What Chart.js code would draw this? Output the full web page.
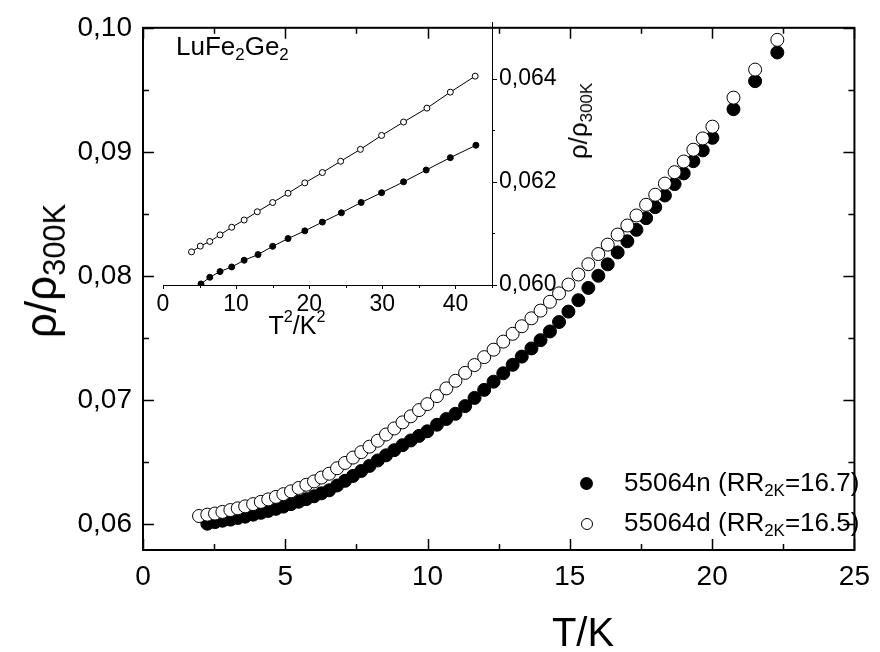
<!DOCTYPE html>
<html>
<head>
<meta charset="utf-8">
<script src="https://cdn.jsdelivr.net/npm/chart.js@4.4.1/dist/chart.umd.min.js"></script>
<style>
  body { margin: 0; background: #fff; }
  #wrap { position: relative; width: 880px; height: 652px; font-family: "Liberation Sans", Arial, sans-serif; color: #000; }
  canvas { position: absolute; }
  .lbl { position: absolute; white-space: nowrap; line-height: 1; }
  .rot { transform: translate(-50%, -50%) rotate(-90deg); }
  .ctr { transform: translate(-50%, -50%); }
  sub { font-size: 0.65em; vertical-align: -0.3em; line-height: 0; }
  sup { font-size: 0.65em; vertical-align: 0.7em; line-height: 0; }
  .dot { position: absolute; border-radius: 50%; box-sizing: border-box; }
</style>
</head>
<body>
<div id="wrap">
  <canvas id="mainCanvas" width="880" height="652" style="left:0;top:0"></canvas>
  <canvas id="insetCanvas" width="450" height="340" style="left:150px;top:0"></canvas>

  <div class="lbl rot" style="left:41px;top:271px;font-size:44px">ρ/ρ<sub style="font-size:0.7em">300K</sub></div>
  <div class="lbl ctr" style="left:583px;top:632px;font-size:40px">T/K</div>

  <div class="lbl" style="left:176px;top:33px;font-size:26px">LuFe<sub>2</sub>Ge<sub>2</sub></div>
  <div class="lbl rot" style="left:578px;top:121px;font-size:26px">ρ/ρ<sub>300K</sub></div>
  <div class="lbl ctr" style="left:297px;top:325px;font-size:25px">T<sup>2</sup>/K<sup>2</sup></div>

  <div class="dot" style="left:580px;top:477px;width:13px;height:13px;background:#000"></div>
  <div class="lbl" style="left:624px;top:469px;font-size:26px">55064n (RR<sub>2K</sub>=16.7)</div>
  <div class="dot" style="left:581px;top:517.5px;width:12px;height:12px;border:1px solid #000;background:#fff"></div>
  <div class="lbl" style="left:624px;top:509px;font-size:26px">55064d (RR<sub>2K</sub>=16.5)</div>
</div>

<script>
// main plot: T (K) and normalised resistivity of the two samples
const temps = [1.97, 2.26, 2.53, 2.79, 3.07, 3.33, 3.59, 3.87, 4.14, 4.40, 4.67, 4.93, 5.20, 5.47, 5.74, 6.01, 6.27, 6.54,
  6.82, 7.10, 7.38, 7.67, 7.96, 8.25, 8.54, 8.83, 9.12, 9.41, 9.70, 9.99,
  10.33, 10.66, 10.98, 11.32, 11.65, 11.99, 12.32, 12.66, 12.99, 13.31, 13.65, 13.97, 14.30, 14.62, 14.95,
  15.30, 15.65, 16.00, 16.33, 16.68, 17.02, 17.34, 17.68, 18.00, 18.34, 18.68, 19.00, 19.34, 19.67, 20.01,
  20.75, 21.51, 22.29];
const rhoOpen = [0.06064, 0.06075, 0.06084, 0.06097, 0.06112, 0.06126, 0.06142, 0.06160, 0.06178, 0.06198, 0.06218, 0.06240, 0.06263, 0.06290, 0.06316, 0.06343, 0.06374, 0.06405,
  0.06449, 0.06492, 0.06535, 0.06579, 0.06623, 0.06671, 0.06721, 0.06770, 0.06819, 0.06868, 0.06918, 0.06966,
  0.07031, 0.07093, 0.07154, 0.07218, 0.07281, 0.07345, 0.07405, 0.07470, 0.07533, 0.07594, 0.07658, 0.07720, 0.07791, 0.07859, 0.07930,
  0.08011, 0.08094, 0.08176, 0.08252, 0.08333, 0.08406, 0.08487, 0.08573, 0.08654, 0.08744, 0.08836, 0.08922, 0.09017, 0.09108, 0.09203,
  0.09437, 0.09663, 0.09903];
const rhoFilled = [null, 0.06002, 0.06015, 0.06026, 0.06035, 0.06048, 0.06059, 0.06075, 0.06090, 0.06105, 0.06122, 0.06140, 0.06160, 0.06179, 0.06200, 0.06223, 0.06247, 0.06271,
  0.06310, 0.06348, 0.06387, 0.06427, 0.06468, 0.06512, 0.06553, 0.06595, 0.06635, 0.06673, 0.06710, 0.06747,
  0.06800, 0.06846, 0.06888, 0.06950, 0.07016, 0.07081, 0.07147, 0.07215, 0.07283, 0.07349, 0.07415, 0.07482, 0.07552, 0.07628, 0.07712,
  0.07804, 0.07903, 0.08001, 0.08093, 0.08189, 0.08279, 0.08371, 0.08465, 0.08554, 0.08648, 0.08740, 0.08826, 0.08925, 0.09012, 0.09113,
  0.09344, 0.09570, 0.09801];

// inset: T^2 (K^2) against the same quantity
const t2Open = [3.9, 5.1, 6.4, 7.8, 9.4, 11.1, 12.9, 15.0, 17.1, 19.4, 21.8, 24.3, 27.0, 29.9, 32.9, 36.1, 39.3, 42.7];
const insetOpen = [0.060643, 0.060754, 0.060844, 0.060972, 0.06112, 0.06126, 0.06142, 0.06160, 0.06178, 0.06198, 0.06218, 0.06240, 0.06263, 0.06290, 0.06316, 0.06343, 0.06374, 0.06405];
const t2Filled = [5.2, 6.4, 7.8, 9.4, 11.1, 13.0, 15.0, 17.1, 19.4, 21.8, 24.4, 27.1, 29.9, 32.9, 36.0, 39.3, 42.8];
const insetFilled = [0.06002, 0.06015, 0.06026, 0.06035, 0.06048, 0.06059, 0.06075, 0.06090, 0.06105, 0.06122, 0.06140, 0.06160, 0.06179, 0.06200, 0.06223, 0.06247, 0.06271];

// ticks
const xMajor = [0, 5, 10, 15, 20, 25];
const xMinor = [2.5, 7.5, 12.5, 17.5, 22.5];
const yMajor = [0.06, 0.07, 0.08, 0.09, 0.10];
const yMinor = [0.065, 0.075, 0.085, 0.095];
const insetXMajor = [0, 10, 20, 30, 40];
const insetXMinor = [5, 15, 25, 35, 45];
const insetYMajor = [0.060, 0.062, 0.064];
const insetYMinor = [0.061, 0.063];

const FONT = '"Liberation Sans", Arial, sans-serif';
const comma = (v, d) => v.toFixed(d).replace('.', ',');
const pts = (xs, ys) => xs.map((x, i) => ({ x, y: ys[i] })).filter(p => p.y !== null);

// frame with inward ticks on all four sides
const mainFrame = {
  id: 'mainFrame',
  afterDraw(chart) {
    const { ctx, chartArea: a, scales: { x, y } } = chart;
    ctx.save();
    ctx.strokeStyle = '#000';
    ctx.lineWidth = 2;
    ctx.strokeRect(a.left, a.top, a.right - a.left, a.bottom - a.top);
    ctx.lineWidth = 1.5;
    ctx.beginPath();
    const xt = (v, len) => {
      const p = Math.round(x.getPixelForValue(v)) + 0.5;
      ctx.moveTo(p, a.bottom); ctx.lineTo(p, a.bottom - len);
      ctx.moveTo(p, a.top); ctx.lineTo(p, a.top + len);
    };
    const yt = (v, len) => {
      const p = Math.round(y.getPixelForValue(v)) + 0.5;
      ctx.moveTo(a.left, p); ctx.lineTo(a.left + len, p);
      ctx.moveTo(a.right, p); ctx.lineTo(a.right - len, p);
    };
    xMajor.forEach(v => xt(v, 11));
    xMinor.forEach(v => xt(v, 6));
    yMajor.forEach(v => yt(v, 11));
    yMinor.forEach(v => yt(v, 6));
    ctx.stroke();
    ctx.restore();
  }
};

// inset: only bottom and right axis lines, ticks outward
const insetFrame = {
  id: 'insetFrame',
  afterDraw(chart) {
    const { ctx, chartArea: a, scales: { x, y } } = chart;
    ctx.save();
    ctx.strokeStyle = '#000';
    ctx.lineWidth = 1;
    ctx.beginPath();
    ctx.moveTo(a.left, a.bottom + 0.5); ctx.lineTo(a.right, a.bottom + 0.5);
    ctx.moveTo(a.right + 0.5, a.top); ctx.lineTo(a.right + 0.5, a.bottom);
    const xt = (v, len) => {
      const p = Math.round(x.getPixelForValue(v)) + 0.5;
      ctx.moveTo(p, a.bottom); ctx.lineTo(p, a.bottom + len);
    };
    const yt = (v, len) => {
      const p = Math.round(y.getPixelForValue(v)) + 0.5;
      ctx.moveTo(a.right, p); ctx.lineTo(a.right + len, p);
    };
    insetXMajor.forEach(v => xt(v, 4));
    insetXMinor.forEach(v => xt(v, 3));
    insetYMajor.forEach(v => yt(v, 5));
    insetYMinor.forEach(v => yt(v, 3));
    ctx.stroke();
    ctx.restore();
  }
};

new Chart(document.getElementById('mainCanvas'), {
  type: 'scatter',
  data: {
    datasets: [
      { label: '55064d', data: pts(temps, rhoOpen), order: 0,
        pointRadius: 6.5, pointBackgroundColor: '#fff', pointBorderColor: '#000', pointBorderWidth: 1 },
      { label: '55064n', data: pts(temps, rhoFilled), order: 1,
        pointRadius: 6.5, pointBackgroundColor: '#000', pointBorderColor: '#000', pointBorderWidth: 1 }
    ]
  },
  options: {
    responsive: false,
    animation: false,
    devicePixelRatio: 1,
    layout: { padding: { left: 0, right: 19, top: 22, bottom: 0 } },
    plugins: { legend: { display: false }, tooltip: { enabled: false } },
    scales: {
      x: {
        type: 'linear', min: 0, max: 25,
        afterFit: s => { s.height = 102; },
        afterBuildTicks: s => { s.ticks = xMajor.map(v => ({ value: v })); },
        grid: { display: false, drawTicks: false },
        border: { display: false },
        ticks: { padding: 10, color: '#000', font: { family: FONT, size: 28 }, callback: v => String(v) }
      },
      y: {
        type: 'linear', min: 0.0579, max: 0.1,
        afterFit: s => { s.width = 143; },
        afterBuildTicks: s => { s.ticks = yMajor.map(v => ({ value: v })); },
        grid: { display: false, drawTicks: false },
        border: { display: false },
        ticks: { padding: 11, color: '#000', font: { family: FONT, size: 28 }, callback: v => comma(v, 2) }
      }
    }
  },
  plugins: [mainFrame]
});

new Chart(document.getElementById('insetCanvas'), {
  type: 'scatter',
  data: {
    datasets: [
      { label: 'open', data: pts(t2Open, insetOpen), showLine: true, borderColor: '#000', borderWidth: 1,
        pointRadius: 3, pointBackgroundColor: '#fff', pointBorderColor: '#000', pointBorderWidth: 1 },
      { label: 'filled', data: pts(t2Filled, insetFilled), showLine: true, borderColor: '#000', borderWidth: 1,
        pointRadius: 3, pointBackgroundColor: '#000', pointBorderColor: '#000', pointBorderWidth: 1 }
    ]
  },
  options: {
    responsive: false,
    animation: false,
    devicePixelRatio: 1,
    layout: { padding: { left: 13, right: 0, top: 22, bottom: 0 } },
    plugins: { legend: { display: false }, tooltip: { enabled: false } },
    scales: {
      x: {
        type: 'linear', min: 0, max: 45,
        afterFit: s => { s.height = 55; },
        afterBuildTicks: s => { s.ticks = insetXMajor.map(v => ({ value: v })); },
        grid: { display: false, drawTicks: false },
        border: { display: false },
        ticks: { padding: 6, color: '#000', font: { family: FONT, size: 23 }, callback: v => String(v) }
      },
      y: {
        type: 'linear', position: 'right', min: 0.0600, max: 0.0651,
        afterFit: s => { s.width = 108; },
        afterBuildTicks: s => { s.ticks = insetYMajor.map(v => ({ value: v })); },
        grid: { display: false, drawTicks: false },
        border: { display: false },
        ticks: { padding: 7, color: '#000', font: { family: FONT, size: 23 }, callback: v => comma(v, 3) }
      }
    }
  },
  plugins: [insetFrame]
});
</script>
</body>
</html>
